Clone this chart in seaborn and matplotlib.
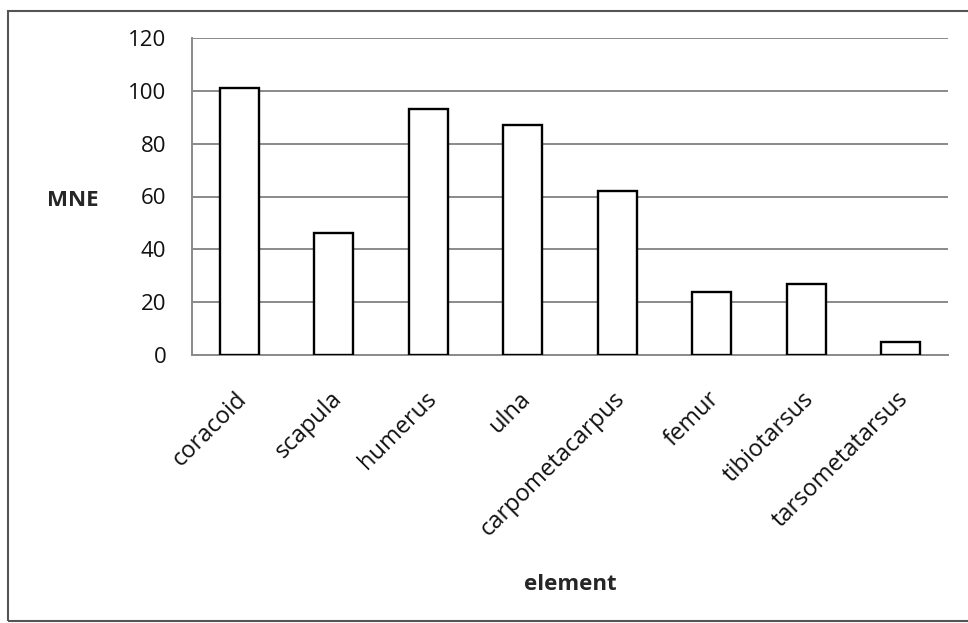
import matplotlib
matplotlib.use("Agg")
import matplotlib.pyplot as plt
from matplotlib.patches import Rectangle
from matplotlib.transforms import ScaledTranslation
import numpy as np
import pandas as pd
import seaborn as sns

# Minimum number of elements (MNE) per skeletal element
elements = ["coracoid", "scapula", "humerus", "ulna", "carpometacarpus",
            "femur", "tibiotarsus", "tarsometatarsus"]
mne = [101, 46, 93, 87, 62, 24, 27, 5]
y_ticks = [0, 20, 40, 60, 80, 100, 120]

df = pd.DataFrame({"element": elements, "MNE": mne})

sns.set_style("white")
plt.rcParams["font.family"] = ["Open Sans", "DejaVu Sans"]
plt.rcParams["font.size"] = 16

W, H = 968, 623
fig = plt.figure(figsize=(W / 100, H / 100), dpi=100)
ax = fig.add_axes([192 / W, 1 - 355 / H, (948 - 192) / W, (355 - 38) / H])

grid_col = "#8a8a8a"
sns.barplot(data=df, x="element", y="MNE", ax=ax, color="white",
            edgecolor="black", linewidth=1.7, width=0.41, zorder=3)

ax.set_ylim(0, 120)
ax.set_xlim(-0.5, len(elements) - 0.5)
ax.set_yticks(y_ticks)
ax.yaxis.grid(True, color=grid_col, linewidth=1.4, zorder=0)
ax.xaxis.grid(False)
ax.set_axisbelow(True)

for side in ("top", "right"):
    ax.spines[side].set_visible(False)
for side in ("left", "bottom"):
    ax.spines[side].set_color(grid_col)
    ax.spines[side].set_linewidth(1.4)

# y ticks: outward marks on the value axis
ax.tick_params(axis="y", direction="out", length=6.5, width=1.2,
               color=grid_col, pad=12, labelsize=16, labelcolor="#111111")

# x ticks: marks between categories, labels under each bar
ax.set_xticks(np.arange(-0.5, len(elements)), minor=True)
ax.tick_params(axis="x", which="minor", direction="out", length=5,
               width=1.2, color=grid_col)
ax.tick_params(axis="x", which="major", length=0, pad=23)
ax.set_xticks(np.arange(len(elements)))
ax.set_xticklabels(elements, rotation=45, ha="right", va="top",
                   rotation_mode="anchor", fontsize=17, color="#111111")
shift = ScaledTranslation(-4 / 100, 0, fig.dpi_scale_trans)
for lbl in ax.get_xticklabels():
    lbl.set_transform(lbl.get_transform() + shift)

ax.set_ylabel("MNE", rotation=0, fontweight="bold", fontsize=16,
              ha="center", va="center")
ax.yaxis.set_label_coords((73 - 192) / 756, (355 - 201) / 317)
ax.set_xlabel("element", fontweight="bold", fontsize=16,
              ha="center", va="center")
ax.xaxis.set_label_coords(0.5, (355 - 584) / 317)

# outer chart border
fig.patches.append(Rectangle((8 / W, 2 / H), 1.0, 1 - 13 / H,
                             transform=fig.transFigure, fill=False,
                             edgecolor="#555555", linewidth=1.5))

fig.savefig("out.png", dpi=100, facecolor="white")
